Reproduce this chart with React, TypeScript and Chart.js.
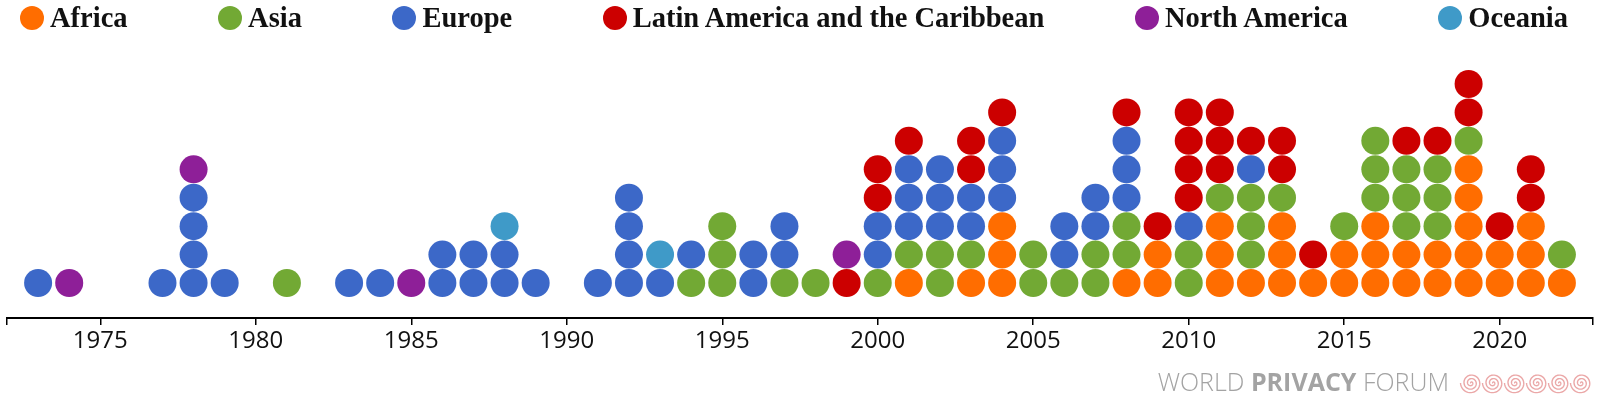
import React, { useEffect, useRef } from "react";
import { Chart, registerables } from "chart.js";

Chart.register(...registerables);

// Years covered by the dot columns (1973 … 2022)
const years: number[] = Array.from({ length: 50 }, (_, i) => 1973 + i);

// Number of laws per year and region, stacked in this order
const africa = [
  0, 0, 0, 0, 0, 0, 0, 0, 0, 0,
  0, 0, 0, 0, 0, 0, 0, 0, 0, 0,
  0, 0, 0, 0, 0, 0, 0, 0, 1, 0,
  1, 3, 0, 0, 0, 1, 2, 0, 3, 1,
  3, 1, 2, 3, 2, 2, 5, 2, 3, 1,
];
const asia = [
  0, 0, 0, 0, 0, 0, 0, 0, 1, 0,
  0, 0, 0, 0, 0, 0, 0, 0, 0, 0,
  0, 1, 3, 0, 1, 1, 0, 1, 1, 2,
  1, 0, 2, 1, 2, 2, 0, 2, 1, 3,
  1, 0, 1, 3, 3, 3, 1, 0, 0, 1,
];
const europe = [
  1, 0, 0, 0, 1, 4, 1, 0, 0, 0,
  1, 1, 0, 2, 2, 2, 1, 0, 1, 4,
  1, 1, 0, 2, 2, 0, 0, 2, 3, 3,
  2, 3, 0, 2, 2, 3, 0, 1, 0, 1,
  0, 0, 0, 0, 0, 0, 0, 0, 0, 0,
];
const latinAmerica = [
  0, 0, 0, 0, 0, 0, 0, 0, 0, 0,
  0, 0, 0, 0, 0, 0, 0, 0, 0, 0,
  0, 0, 0, 0, 0, 0, 1, 2, 1, 0,
  2, 1, 0, 0, 0, 1, 1, 4, 3, 1,
  2, 1, 0, 0, 1, 1, 2, 1, 2, 0,
];
const northAmerica = [
  0, 1, 0, 0, 0, 1, 0, 0, 0, 0,
  0, 0, 1, 0, 0, 0, 0, 0, 0, 0,
  0, 0, 0, 0, 0, 0, 1, 0, 0, 0,
  0, 0, 0, 0, 0, 0, 0, 0, 0, 0,
  0, 0, 0, 0, 0, 0, 0, 0, 0, 0,
];
const oceania = [
  0, 0, 0, 0, 0, 0, 0, 0, 0, 0,
  0, 0, 0, 0, 0, 1, 0, 0, 0, 0,
  1, 0, 0, 0, 0, 0, 0, 0, 0, 0,
  0, 0, 0, 0, 0, 0, 0, 0, 0, 0,
  0, 0, 0, 0, 0, 0, 0, 0, 0, 0,
];

const regionNames = [
  "Africa",
  "Asia",
  "Europe",
  "Latin America and the Caribbean",
  "North America",
  "Oceania",
];
const regionCounts = [africa, asia, europe, latinAmerica, northAmerica, oceania];
const regionColors = ["#ff6d00", "#72a934", "#3c68c8", "#cc0000", "#8e1f98", "#3f9ac8"];

// Axis ticks: outer ticks at domain ends, labelled ticks every five years
const tickYears = [1972, 1975, 1980, 1985, 1990, 1995, 2000, 2005, 2010, 2015, 2020, 2023];
const labeledYears = [1975, 1980, 1985, 1990, 1995, 2000, 2005, 2010, 2015, 2020];

const spiralPlugin = {
  id: "wpfSpirals",
  afterDraw(chart: any) {
    const ctx = chart.ctx as CanvasRenderingContext2D;
    ctx.save();
    ctx.strokeStyle = "#eba8a8";
    ctx.lineWidth = 1.4;
    for (let s = 0; s < 6; s++) {
      const cx = 1471 + s * 22;
      const cy = 383;
      ctx.beginPath();
      const turns = 3;
      const maxR = 10.5;
      const steps = 120;
      for (let k = 0; k <= steps; k++) {
        const t = (k / steps) * turns * Math.PI * 2;
        const r = (maxR * k) / steps;
        const px = cx + r * Math.cos(t + Math.PI);
        const py = cy + r * Math.sin(t + Math.PI);
        if (k === 0) ctx.moveTo(px, py);
        else ctx.lineTo(px, py);
      }
      ctx.stroke();
    }
    ctx.restore();
  },
};

export default function App() {
  const canvasRef = useRef<HTMLCanvasElement | null>(null);

  useEffect(() => {
    if (!canvasRef.current) return;
    const datasets = regionNames.map((name, r) => {
      const pts: { x: number; y: number }[] = [];
      years.forEach((yr, i) => {
        let base = 0;
        for (let q = 0; q < r; q++) base += regionCounts[q][i];
        for (let k = 0; k < regionCounts[r][i]; k++) pts.push({ x: yr, y: base + k });
      });
      return {
        label: name,
        data: pts,
        backgroundColor: regionColors[r],
        borderWidth: 0,
        pointRadius: 14,
        pointHoverRadius: 14,
        clip: false as any,
      };
    });

    const chart = new Chart(canvasRef.current, {
      type: "scatter",
      data: { datasets },
      options: {
        responsive: false,
        animation: false,
        devicePixelRatio: 1,
        events: [],
        layout: { autoPadding: false, padding: { left: 7, right: 7, top: 60, bottom: 0 } },
        plugins: { legend: { display: false }, tooltip: { enabled: false } },
        scales: {
          x: {
            type: "linear",
            position: "bottom",
            min: 1972,
            max: 2023,
            afterBuildTicks: (s: any) => {
              s.ticks = tickYears.map((v) => ({ value: v }));
            },
            afterFit: (s: any) => {
              s.height = 80;
              s.paddingLeft = 0;
              s.paddingRight = 0;
            },
            grid: {
              drawOnChartArea: false,
              drawTicks: true,
              tickLength: 7,
              color: "#000",
              lineWidth: 1.5,
            },
            border: { display: true, color: "#000", width: 2 },
            ticks: {
              autoSkip: false,
              maxRotation: 0,
              padding: 2,
              color: "#111",
              font: { family: "'Open Sans'", size: 24 },
              callback: (v: any) => (labeledYears.includes(Number(v)) ? String(v) : ""),
            },
          },
          y: { display: false, min: -1.2311, max: 7.8439 },
        },
      },
      plugins: [spiralPlugin],
    });
    return () => chart.destroy();
  }, []);

  return (
    <div style={{ position: "absolute", left: 0, top: 0, width: 1600, height: 398, background: "#fff", overflow: "hidden" }}>
      <canvas ref={canvasRef} width={1600} height={398} style={{ position: "absolute", left: 0, top: 0, width: 1600, height: 398 }} />
      <div
        style={{
          position: "absolute",
          left: 20,
          width: 1548,
          top: 0,
          height: 36,
          display: "flex",
          justifyContent: "space-between",
          alignItems: "center",
        }}
      >
        {regionNames.map((name, r) => (
          <div key={name} style={{ display: "flex", alignItems: "center" }}>
            <span
              style={{
                display: "inline-block",
                width: 24,
                height: 24,
                borderRadius: "50%",
                background: regionColors[r],
                marginRight: 6,
              }}
            />
            <span
              style={{
                fontFamily: "'Liberation Serif', serif",
                fontWeight: 700,
                fontSize: 28.5,
                lineHeight: 1,
                color: "#111",
                whiteSpace: "nowrap",
              }}
            >
              {name}
            </span>
          </div>
        ))}
      </div>
      <div
        style={{
          position: "absolute",
          right: 151,
          top: 369,
          fontFamily: "'Open Sans', sans-serif",
          fontSize: 25,
          lineHeight: 1,
          color: "#a3a3a3",
          whiteSpace: "nowrap",
        }}
      >
        <span style={{ fontWeight: 300 }}>WORLD </span>
        <span style={{ fontWeight: 700 }}>PRIVACY</span>
        <span style={{ fontWeight: 300 }}> FORUM</span>
      </div>
    </div>
  );
}
